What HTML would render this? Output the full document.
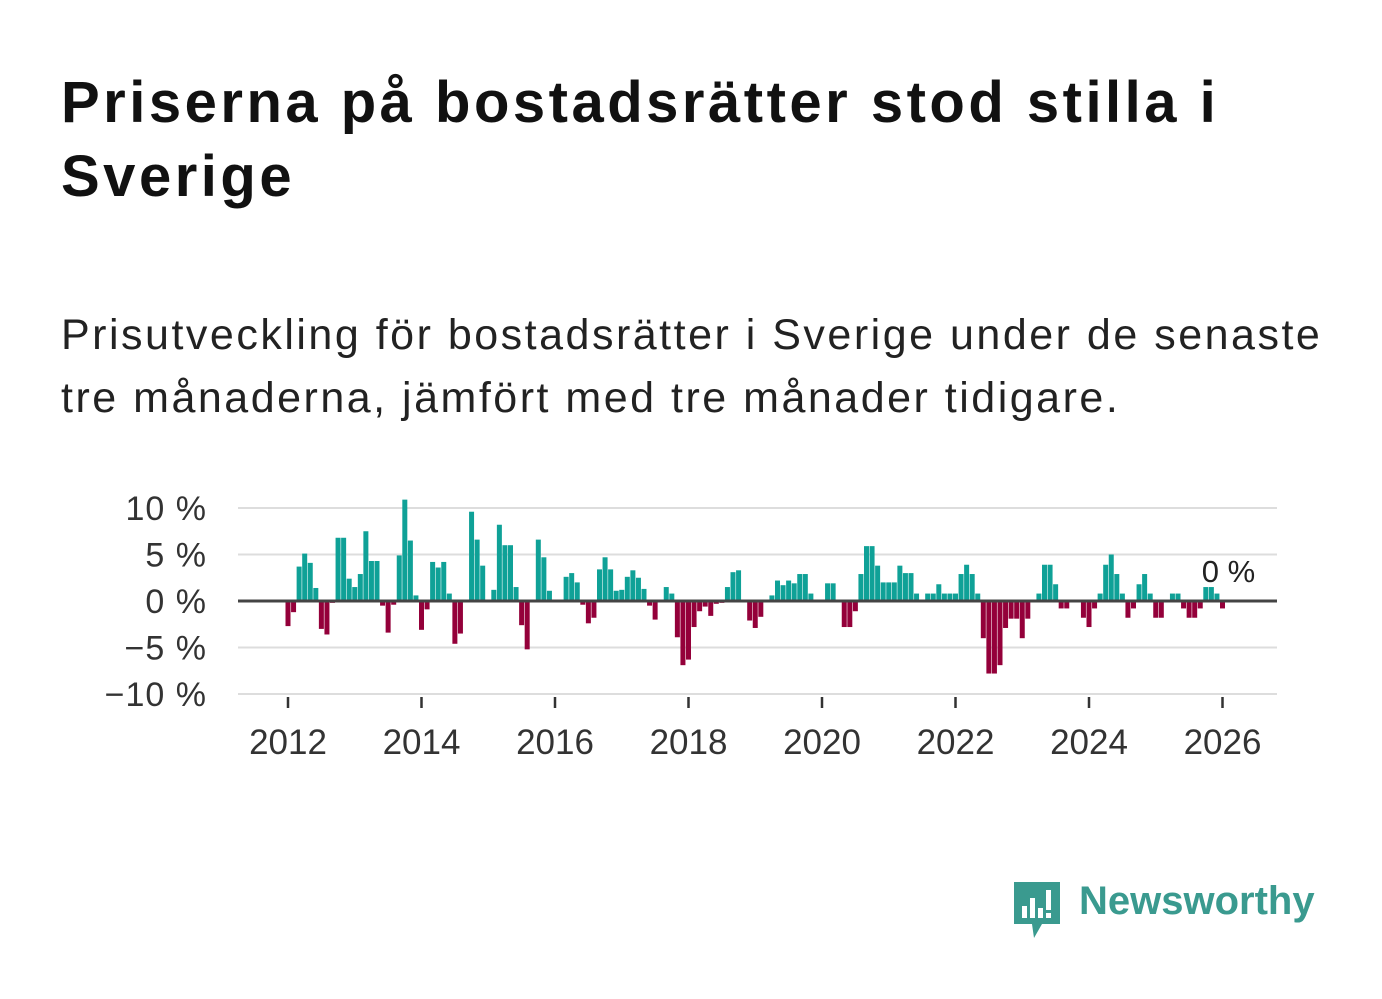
<!DOCTYPE html>
<html><head><meta charset="utf-8"><style>
body{margin:0;width:1382px;height:999px;background:#fff;font-family:"Liberation Sans",sans-serif;overflow:hidden;position:relative}
h1{position:absolute;left:61px;top:66px;margin:0;font-size:58px;line-height:74px;font-weight:bold;color:#111;width:1300px;letter-spacing:3.5px;white-space:nowrap}
.sub{position:absolute;left:61px;top:304px;margin:0;font-size:43px;line-height:63px;color:#222;width:1300px;letter-spacing:2.5px;white-space:nowrap}
</style></head><body>
<h1>Priserna på bostadsrätter stod stilla i<br>Sverige</h1>
<p class="sub">Prisutveckling för bostadsrätter i Sverige under de senaste<br>tre månaderna, jämfört med tre månader tidigare.</p>
<svg id="chart" width="1382" height="999" style="position:absolute;left:0;top:0" font-family="Liberation Sans, sans-serif"></svg>
<div style="position:absolute;left:1012px;top:880px;height:60px;">
<svg width="50" height="60" style="position:absolute;left:0;top:0"><path d="M2 2h46v42H30l-8 14-2-14H2z" fill="#3a9a8f"/><rect x="10" y="26" width="5" height="12" fill="#fff"/><rect x="18" y="18" width="5" height="20" fill="#fff"/><rect x="26" y="28" width="5" height="10" fill="#fff"/><rect x="34" y="10" width="5" height="20" fill="#fff"/><rect x="34" y="33" width="5" height="5" fill="#fff"/></svg>
<span style="position:absolute;left:67px;top:-1px;font-size:40px;font-weight:bold;color:#3a9a8f;white-space:nowrap">Newsworthy</span></div>
<script>
const startYear = 2012;
const values = [-2.7,-1.2,3.7,5.1,4.1,1.4,-3.0,-3.6,-0.2,6.8,6.8,2.4,
1.5,2.9,7.5,4.3,4.3,-0.5,-3.4,-0.4,4.9,10.9,6.5,0.6,
-3.1,-0.9,4.2,3.6,4.2,0.8,-4.6,-3.5,0,9.6,6.6,3.8,
0,1.2,8.2,6,6,1.5,-2.6,-5.2,0,6.6,4.7,1.1,
0,0,2.6,3.0,2.0,-0.4,-2.4,-1.8,3.4,4.7,3.4,1.1,
1.2,2.6,3.3,2.5,1.3,-0.5,-2.0,0,1.5,0.8,-3.9,-6.9,
-6.3,-2.8,-1.1,-0.6,-1.6,-0.3,-0.2,1.5,3.1,3.3,0.1,-2.1,
-2.9,-1.7,0,0.6,2.2,1.7,2.2,1.9,2.9,2.9,0.8,0,
0,1.9,1.9,0,-2.8,-2.8,-1.1,2.9,5.9,5.9,3.8,2.0,
2.0,2.0,3.8,3.0,3.0,0.8,0,0.8,0.8,1.8,0.8,0.8,
0.8,2.9,3.9,2.9,0.8,-4.0,-7.8,-7.8,-6.9,-2.9,-1.9,-1.9,
-4.0,-1.9,0,0.8,3.9,3.9,1.8,-0.8,-0.8,0,0,-1.8,
-2.8,-0.8,0.8,3.9,5.0,2.9,0.8,-1.8,-0.8,1.8,2.9,0.8,
-1.8,-1.8,0,0.8,0.8,-0.8,-1.8,-1.8,-0.8,1.5,1.5,0.8,
-0.8];
const yTicks = [10,5,0,-5,-10];
const yTickLabels = ["10 %","5 %","0 %","−5 %","−10 %"];
const xTicks = [2012,2014,2016,2018,2020,2022,2024,2026];
const lastLabel = "0 %";

const NS="http://www.w3.org/2000/svg";
const svg=document.getElementById('chart');
const X0=288, PXY=66.75;
const xs = t => X0 + (t - startYear) * PXY;
const ys = v => 601 - v * 9.3;
function mk(tag,attrs,parent){const e=document.createElementNS(NS,tag);for(const k in attrs)e.setAttribute(k,attrs[k]);(parent||svg).appendChild(e);return e;}
yTicks.forEach((t,i)=>{
  if(t!==0){const g=mk('line',{x1:238,x2:1277,y1:ys(t),y2:ys(t),stroke:'#dddddd','stroke-width':2});
  
  }
  const l=mk('text',{x:207,y:ys(t)+12,'text-anchor':'end','font-size':34,fill:'#333','letter-spacing':1});
  l.textContent=yTickLabels[i];
  
  
});
values.forEach((v,i)=>{
  const x=xs(startYear+i/12);
  const y0=ys(0), y1=ys(v);
  const r=mk('rect',{x:x-2.5,y:Math.min(y0,y1),width:5,height:Math.abs(y1-y0),fill:v>=0?'#0fa197':'#94003a'});
  
  
});
const z=mk('line',{x1:238,x2:1277,y1:ys(0),y2:ys(0),stroke:'#444','stroke-width':3});


xTicks.forEach(t=>{
  const tk=mk('line',{x1:xs(t),x2:xs(t),y1:697,y2:708,stroke:'#333','stroke-width':2.5});
  
  
  const l=mk('text',{x:xs(t),y:754,'text-anchor':'middle','font-size':35,fill:'#333'});
  l.textContent=t;
  
  
});
const lx=xs(startYear+(values.length-1)/12);
const ll=mk('text',{x:lx+6,y:582,'text-anchor':'middle','font-size':31,fill:'#222',stroke:'#fff','stroke-width':6,'paint-order':'stroke'});
ll.textContent=lastLabel;


</script>
</body></html>
